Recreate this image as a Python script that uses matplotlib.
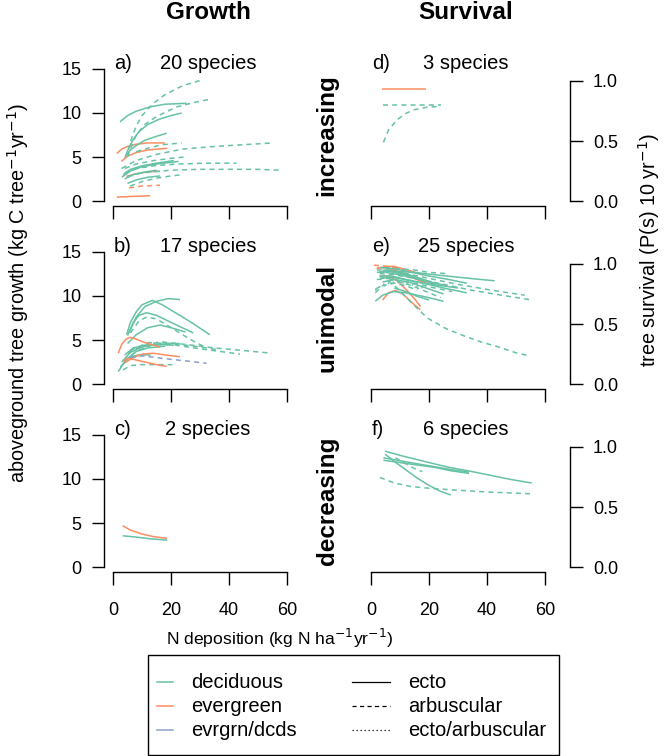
import matplotlib
matplotlib.use('Agg')
import matplotlib.pyplot as plt
from matplotlib.patches import Rectangle

plt.rcParams['font.family'] = ['Liberation Sans', 'DejaVu Sans']

# ---------------- data ----------------
COLUMN_TITLES = ['Growth', 'Survival']
ROW_TITLES = ['increasing', 'unimodal', 'decreasing']
PANEL_LETTERS = ['a)', 'b)', 'c)', 'd)', 'e)', 'f)']
SPECIES_COUNTS = [20, 17, 2, 3, 25, 6]
X_TICKS = [0, 20, 40, 60]
GROWTH_TICKS = [0, 5, 10, 15]
SURV_TICKS = [0.0, 0.5, 1.0]
SURV_TICK_LABELS = ['0.0', '0.5', '1.0']

LEAF_TYPES = ['deciduous', 'evergreen', 'evrgrn/dcds']
MYC_TYPES = ['ecto', 'arbuscular', 'ecto/arbuscular']

# panel a) growth, increasing
A_X = [[1.3, 3, 5, 8, 12, 17.9], [2.9, 5, 8, 12, 18.7], [4.6, 8, 12, 16.2],
       [5.5, 10, 16.2], [1.3, 5, 9, 12.8],
       [5.3, 6.5, 8, 10, 13.9, 18, 24, 31.1], [5, 6.5, 8, 11, 15, 22, 28, 34],
       [2.4, 5, 8, 12.8, 18, 25.4], [4.1, 5.5, 7, 9, 12, 16, 20, 23.7],
       [4.6, 6, 8, 11, 14.5, 18.5], [8, 12, 17, 23.7],
       [3, 8, 15, 24, 35, 45, 55.3], [5, 10, 20, 30, 40, 50, 57.6],
       [4, 8, 14, 22, 32, 42.6], [3, 6, 10, 15, 22.6], [3.5, 6, 10, 15, 21],
       [4.1, 8, 14, 20, 24.8], [5.9, 10, 15, 20, 24.1], [5, 8, 12, 16.2],
       [4, 7, 11, 15]]
A_Y = [[5.4, 5.9, 6.2, 6.45, 6.6, 6.6], [4.5, 5.1, 5.5, 5.8, 6.0], [2.8, 3.1, 3.3, 3.4],
       [1.5, 1.7, 1.8], [0.45, 0.5, 0.55, 0.6],
       [5.8, 7.2, 8.5, 9.7, 11.1, 12.1, 13.1, 13.8], [5.0, 6.3, 7.5, 8.7, 9.6, 10.7, 11.2, 11.6],
       [9.0, 9.7, 10.2, 10.7, 11.0, 11.1], [4.9, 6.1, 7.0, 7.9, 8.7, 9.3, 9.7, 10.0],
       [5.2, 5.8, 6.3, 6.9, 7.3, 7.7], [5.6, 6.0, 6.4, 6.6],
       [3.7, 4.6, 5.3, 5.9, 6.2, 6.4, 6.6], [2.8, 3.2, 3.5, 3.6, 3.6, 3.6, 3.5],
       [3.2, 3.7, 4.0, 4.2, 4.3, 4.3], [2.7, 3.4, 3.9, 4.2, 4.5], [3.0, 3.6, 4.0, 4.3, 4.6],
       [3.7, 4.2, 4.6, 4.85, 5.0], [1.7, 2.2, 2.6, 2.85, 3.0], [2.0, 2.4, 2.7, 2.85],
       [2.5, 3.0, 3.3, 3.5]]
A_LEAF = [1, 1, 1, 1, 1] + [0] * 15
A_MYC = [0, 0, 0, 1, 0,
         1, 1, 0, 0, 0, 1, 1, 1, 1, 0, 0, 1, 1, 0, 0]

# panel b) growth, unimodal
B_X = [[4.7, 6, 8, 10, 13.6, 17, 21, 27, 33.4], [5.5, 8, 11, 15, 19, 23.1],
       [5, 7, 9, 11.6, 15, 20, 27.7], [6, 9, 11.6, 15, 22, 27, 32.3],
       [5, 8, 12, 16.2, 20, 25], [5, 10, 16.2, 25, 35, 45, 54.7],
       [3, 6, 10, 15, 20, 23], [4, 8, 13, 20, 30, 43.8],
       [1.8, 3, 5, 8, 12, 18], [3.5, 6, 10, 15, 20.5], [2.5, 4, 6, 9, 13],
       [6, 12, 20, 28, 36], [4, 7, 11, 16, 21],
       [1.8, 3, 4.5, 5.9, 8, 11, 16.2], [4, 7, 10, 13.8, 18, 23.1],
       [3.6, 5, 7, 11, 15, 18.5],
       [6, 10, 15, 20, 26, 32.3]]
B_Y = [[5.6, 7.0, 8.2, 9.0, 9.5, 9.0, 8.2, 7.0, 5.6], [5.8, 7.6, 8.8, 9.4, 9.7, 9.6],
       [5.5, 7.0, 7.8, 8.1, 7.8, 7.0, 5.8], [5.8, 7.2, 7.6, 7.4, 6.0, 5.0, 4.1],
       [4.6, 5.6, 6.4, 6.7, 6.4, 5.9], [3.5, 4.3, 4.8, 4.5, 4.1, 3.8, 3.5],
       [2.5, 3.6, 4.2, 4.5, 4.6, 4.6], [2.6, 3.7, 4.4, 4.5, 4.0, 3.4],
       [1.4, 2.0, 2.9, 3.7, 4.1, 4.3], [1.6, 2.1, 2.2, 2.2, 2.2], [1.9, 2.5, 3.1, 3.3, 3.3],
       [3.8, 4.7, 4.6, 4.3, 3.9], [3.3, 4.1, 4.4, 4.5, 4.4],
       [3.5, 4.5, 5.1, 5.3, 5.1, 4.7, 4.2], [2.4, 3.0, 3.4, 3.5, 3.3, 3.1],
       [2.6, 2.9, 2.8, 2.5, 2.2, 2.0],
       [3.0, 3.2, 3.0, 2.8, 2.6, 2.35]]
B_LEAF = [0] * 13 + [1, 1, 1] + [2]
B_MYC = [0, 0, 0, 1, 0, 1, 0, 1, 0, 1, 0, 1, 0, 0, 0, 0, 1]

# panel c) growth, decreasing
C_X = [[3.3, 6, 10, 14, 18.7], [3.3, 8, 13, 18.7]]
C_Y = [[4.7, 4.2, 3.75, 3.45, 3.25], [3.55, 3.4, 3.2, 3.05]]
C_LEAF = [1, 0]
C_MYC = [0, 0]

# panel d) survival, increasing
D_X = [[3.7, 18.8], [4.2, 10, 16, 24], [4.3, 6, 8.9, 12, 14.8, 19, 24]]
D_Y = [[0.93, 0.93], [0.80, 0.80, 0.80, 0.80], [0.49, 0.59, 0.675, 0.73, 0.76, 0.78, 0.79]]
D_LEAF = [1, 0, 0]
D_MYC = [0, 1, 1]

# panel e) survival, unimodal
E_X = [[2, 5, 8, 11, 14, 18], [1, 4, 8, 12], [3, 6, 9, 12, 15, 17.1],
       [4, 6, 8.5, 11, 14, 17], [3, 6, 10, 14, 18], [2, 5, 8, 12, 16, 20],
       [3, 8, 15, 22, 30, 36, 42.6], [3, 8, 15, 25, 35, 45, 55.4],
       [2, 6, 12, 20, 30, 42, 53],
       [3, 6, 9, 13, 19.4, 26, 32.2, 38, 43.8, 50, 53.7],
       [5, 10, 15, 20, 26], [3, 7, 12, 18, 24, 30], [3, 7, 12, 18, 25, 33],
       [4, 8, 13, 19, 25], [1.5, 4, 7.8, 12, 18, 25], [1.5, 4, 8, 12, 16],
       [1.5, 4, 8, 12, 18], [4, 8, 12, 17, 22], [2, 6, 10, 15, 22, 28],
       [5, 10, 15, 20, 26], [2, 6, 10, 16, 22], [6, 10, 14, 19, 24],
       [8, 12, 16, 20], [1.5, 3, 5], [3, 8, 14, 20, 27, 33]]
E_Y = [[0.96, 0.98, 0.98, 0.96, 0.94, 0.91], [0.99, 0.985, 0.97, 0.95],
       [0.9, 0.9, 0.86, 0.79, 0.71, 0.645], [0.7, 0.76, 0.78, 0.75, 0.68, 0.62],
       [0.93, 0.95, 0.93, 0.89, 0.85], [0.97, 0.97, 0.95, 0.91, 0.87, 0.83],
       [0.93, 0.94, 0.93, 0.91, 0.89, 0.875, 0.86], [0.92, 0.91, 0.88, 0.83, 0.78, 0.74, 0.70],
       [0.95, 0.95, 0.92, 0.88, 0.83, 0.78, 0.74],
       [0.9, 0.86, 0.8, 0.7, 0.55, 0.46, 0.40, 0.35, 0.31, 0.26, 0.24],
       [0.97, 0.96, 0.95, 0.93, 0.92], [0.9, 0.9, 0.87, 0.84, 0.82, 0.80],
       [0.88, 0.89, 0.87, 0.84, 0.8, 0.76], [0.85, 0.87, 0.85, 0.8, 0.75],
       [0.69, 0.74, 0.77, 0.76, 0.73, 0.69], [0.76, 0.82, 0.84, 0.82, 0.78],
       [0.78, 0.83, 0.85, 0.84, 0.8], [0.95, 0.94, 0.92, 0.88, 0.84],
       [0.87, 0.88, 0.86, 0.84, 0.8, 0.77], [0.93, 0.91, 0.88, 0.85, 0.82],
       [0.93, 0.94, 0.92, 0.88, 0.83], [0.88, 0.85, 0.82, 0.77, 0.72],
       [0.8, 0.77, 0.73, 0.7], [0.79, 0.81, 0.82], [0.97, 0.96, 0.93, 0.9, 0.87, 0.84]]
E_LEAF = [1] * 6 + [0] * 19
E_MYC = [0, 1, 0, 0, 0, 0,
         0, 1, 1, 1, 1, 0, 0, 0, 0, 1, 2, 0, 1, 0, 0, 1, 0, 1, 0]

# panel f) survival, decreasing
F_X = [[4.9, 10, 15, 20, 27, 33.8, 40, 48, 55.4], [4.3, 10, 16, 22, 28, 33.8],
       [4.3, 10, 16, 22, 28, 33.8], [4.9, 8, 12, 16, 20, 24, 27.5],
       [8.4, 12, 15, 17.7], [3.1, 8, 14, 20.5, 30, 40, 55.4]]
F_Y = [[0.965, 0.93, 0.9, 0.87, 0.83, 0.80, 0.77, 0.73, 0.70],
       [0.89, 0.87, 0.85, 0.83, 0.8, 0.78], [0.91, 0.885, 0.86, 0.835, 0.81, 0.79],
       [0.94, 0.88, 0.81, 0.74, 0.68, 0.63, 0.60],
       [0.91, 0.86, 0.82, 0.795], [0.746, 0.70, 0.67, 0.655, 0.64, 0.625, 0.61]]
F_LEAF = [0] * 6
F_MYC = [0, 0, 0, 0, 1, 1]

# ---------------- styles ----------------
LEAF_COLORS = ['#66C2A5', '#FC8D62', '#8DA0CB']
MYC_STYLES = ['-', (0, (3.3, 2.7)), (0, (1, 2.2))]
LW = 1.1

W, H = 665, 756
fig = plt.figure(figsize=(W / 100, H / 100), dpi=100)


def ax_px(left, top, width, height):
    return fig.add_axes([left / W, 1 - (top + height) / H, width / W, height / H])


AX_W, AX_H = 208, 142.6
TOPS = [63.7, 246.7, 429.7]
LEFTS = [104, 362]
TICK_FS = 13

panels = [(A_X, A_Y, A_LEAF, A_MYC), (B_X, B_Y, B_LEAF, B_MYC), (C_X, C_Y, C_LEAF, C_MYC),
          (D_X, D_Y, D_LEAF, D_MYC), (E_X, E_Y, E_LEAF, E_MYC), (F_X, F_Y, F_LEAF, F_MYC)]

for i, (xs, ys, leaf, myc) in enumerate(panels):
    col, row = divmod(i, 3)
    ax = ax_px(LEFTS[col], TOPS[row], AX_W, AX_H)
    ax.patch.set_alpha(0)
    for x, y, lf, my in zip(xs, ys, leaf, myc):
        ax.plot(x, y, color=LEAF_COLORS[lf], linestyle=MYC_STYLES[my], lw=LW,
                solid_capstyle='butt', dash_capstyle='butt')
    ax.set_xlim(-3.1, 68.6)
    ax.set_xticks(X_TICKS)
    ax.spines['top'].set_visible(False)
    ax.spines['bottom'].set_bounds(0, 60)
    for s in ax.spines.values():
        s.set_linewidth(1.0)
    ax.tick_params(axis='x', direction='out', length=9, width=1.0,
                   labelsize=TICK_FS, pad=12.5, labelbottom=(row == 2))
    if col == 0:
        ax.set_ylim(-0.6, 15.6)
        ax.set_yticks(GROWTH_TICKS)
        ax.spines['right'].set_visible(False)
        ax.spines['left'].set_bounds(0, 15)
        ax.tick_params(axis='y', direction='out', length=8.5, width=1.0,
                       labelsize=TICK_FS, pad=7.5)
    else:
        ax.set_ylim(-0.044, 1.144)
        ax.set_yticks(SURV_TICKS)
        ax.set_yticklabels(SURV_TICK_LABELS)
        ax.spines['left'].set_visible(False)
        ax.spines['right'].set_bounds(0, 1)
        ax.yaxis.tick_right()
        ax.tick_params(axis='y', direction='out', length=9, width=1.0,
                       labelsize=TICK_FS, pad=7.5)
    ax.text(10 / AX_W, 1 - 5.3 / AX_H, PANEL_LETTERS[i], transform=ax.transAxes,
            ha='left', va='baseline', fontsize=14.5)
    ax.text(0.5, 1 - 5.3 / AX_H, f'{SPECIES_COUNTS[i]} species', transform=ax.transAxes,
            ha='center', va='baseline', fontsize=14.5)

# column titles and row titles
fig.text(208 / W, 1 - 19 / H, COLUMN_TITLES[0], ha='center', va='baseline',
         fontsize=17.5, fontweight='bold')
fig.text(466 / W, 1 - 19 / H, COLUMN_TITLES[1], ha='center', va='baseline',
         fontsize=17.5, fontweight='bold')
for row, t in enumerate(ROW_TITLES):
    fig.text(327 / W, 1 - (TOPS[row] + AX_H / 2) / H, t, rotation=90, ha='center',
             va='center', fontsize=17.5, fontweight='bold')

# axis labels
fig.text(18 / W, 1 - 293 / H, 'aboveground tree growth (kg C tree$^{-1}$yr$^{-1}$)',
         rotation=90, ha='center', va='center', fontsize=14.3)
fig.text(649 / W, 1 - 250 / H, 'tree survival (P(s) 10 yr$^{-1}$)',
         rotation=90, ha='center', va='center', fontsize=14.3)
fig.text(280 / W, 1 - 638 / H, 'N deposition (kg N ha$^{-1}$yr$^{-1}$)',
         ha='center', va='center', fontsize=12.6)

# legend (drawn in pixel coordinates)
lax = fig.add_axes([0, 0, 1, 1])
lax.set_xlim(0, W)
lax.set_ylim(H, 0)
lax.axis('off')
lax.add_patch(Rectangle((148, 655), 411, 100, fill=False, lw=1.0, ec='black'))
ROW_Y = [682, 706, 730]
for k in range(3):
    lax.plot([157, 173], [ROW_Y[k]] * 2, color=LEAF_COLORS[k], lw=LW)
    lax.text(191, ROW_Y[k], LEAF_TYPES[k], ha='left', va='center', fontsize=14.5)
    lax.plot([352, 390], [ROW_Y[k]] * 2, color='black', lw=0.9,
             linestyle=MYC_STYLES[k])
    lax.text(408, ROW_Y[k], MYC_TYPES[k], ha='left', va='center', fontsize=14.5)

fig.savefig('out.png', dpi=100)
